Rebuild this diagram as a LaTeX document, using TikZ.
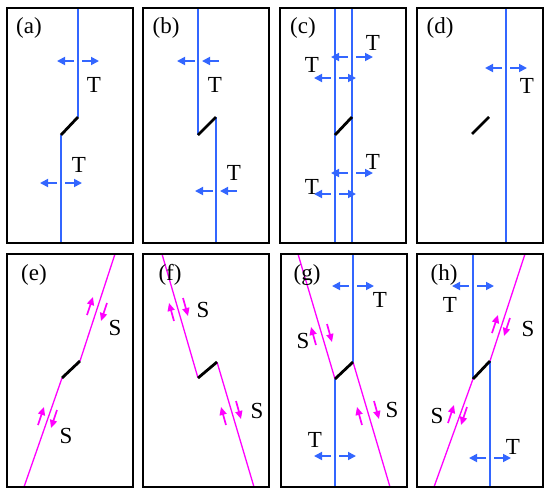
\documentclass[tikz,border=0pt]{standalone}
\usepackage{fontspec}
\setmainfont{Liberation Serif}
\usetikzlibrary{arrows.meta}
\definecolor{tblue}{RGB}{51,102,255}
\definecolor{smag}{RGB}{255,0,255}

\begin{document}
\begin{tikzpicture}[x=1pt, y=-1pt,
  panel/.style={draw=black, line width=2.5pt},
  tline/.style={draw=tblue, line width=1.2pt},
  sline/.style={draw=smag, line width=1.3pt},
  jog/.style={draw=black, line width=2.8pt},
  tarrow/.style={draw=tblue, line width=1.7pt, -{Triangle[length=8pt,width=8pt]}},
  sarrow/.style={draw=smag, line width=1.7pt, -{Triangle[length=8pt,width=7pt]}},
  lab/.style={inner sep=0pt, font=\fontsize{23}{26}\selectfont}]
  \useasboundingbox (0,0) rectangle (550,498);

  % fracture traces
  \draw[tline] (78,8) -- (78,117);  \draw[tline] (61,135) -- (61,243);   % (a)
  \draw[tline] (198,8) -- (198,135); \draw[tline] (216,117) -- (216,243); % (b)
  \draw[tline] (335,8) -- (335,243); \draw[tline] (352,8) -- (352,243);   % (c)
  \draw[tline] (506,8) -- (506,243);                                      % (d)
  \draw[sline] (115,254) -- (80,361); \draw[sline] (62,378) -- (24,487);  % (e)
  \draw[sline] (162,254) -- (198,378); \draw[sline] (217,362) -- (254,487); % (f)
  \draw[sline] (298,254) -- (335,379); \draw[sline] (353,362) -- (390,487); % (g)
  \draw[tline] (353,254) -- (353,362); \draw[tline] (335,379) -- (335,487);
  \draw[sline] (525,254) -- (490,361); \draw[sline] (473,379) -- (434,487); % (h)
  \draw[tline] (473,254) -- (473,379); \draw[tline] (490,361) -- (490,487);

  % jogs
  \foreach \xa/\ya/\xb/\yb in {78/117/61/135, 198/135/216/117, 335/135/352/117,
      472/134/489/117, 80/361/62/378, 198/378/217/362, 335/379/353/362, 490/361/473/379}
    \draw[jog] (\xa,\ya) -- (\xb,\yb);

  % opening arrows
  \foreach \x/\y in {78/61, 61/183, 352/57, 335/78, 352/173, 335/194,
      506/68, 353/286, 335/456, 473/286, 490/458} {
    \draw[tarrow] (\x-4,\y) -- (\x-21,\y);
    \draw[tarrow] (\x+4,\y) -- (\x+21,\y);
  }
  \foreach \x/\y in {198/61, 216/191} {
    \draw[tarrow] (\x-3,\y) -- (\x-21,\y);
    \draw[tarrow] (\x+21,\y) -- (\x+4,\y);
  }

  % shear arrows
  \foreach \x/\y/\dx/\dy in {87/315/6/-18, 107/303/-6/18, 38/425/6/-18, 57/410/-6/18,
      174/321/-5/-18, 183/298/5/18, 226/425/-5/-18, 236/401/5/18,
      316/345/-5/-18, 327/324/5/18, 362/425/-5/-18, 374/401/5/18,
      492/333/6/-18, 510/318/-6/18, 448/423/6/-18, 467/407/-6/18}
    \draw[sarrow] (\x,\y) -- ++(\dx,\dy);

  % labels
  \foreach \x/\y/\t [count=\i] in {94/85/T, 79/165/T, 215/85/T, 234/173/T,
      373/43/T, 312/65/T, 373/162/T, 312/187/T, 527/86/T,
      380/300/T, 315/440/T, 450/305/T, 513/447/T,
      115/328/S, 66/436/S, 203/310/S, 257/411/S,
      303/341/S, 392/410/S, 528/329/S, 437/416/S}
    \node[lab] (m\i) at (\x,\y) {\t};

  % panels
  \foreach \x/\y/\h/\l/\lx/\ly in {7/8/235/a/29/28, 143/8/235/b/166/28,
      280/8/235/c/303/28, 417/8/235/d/440/28, 7/254/233/e/34/275,
      143/254/233/f/170/275, 281/254/233/g/307/275, 417/254/233/h/444/275} {
    \draw[panel] (\x,\y) rectangle ++(126,\h);
    \node[lab] (p\l) at (\lx,\ly) {(\l)};
  }
\end{tikzpicture}
\end{document}
